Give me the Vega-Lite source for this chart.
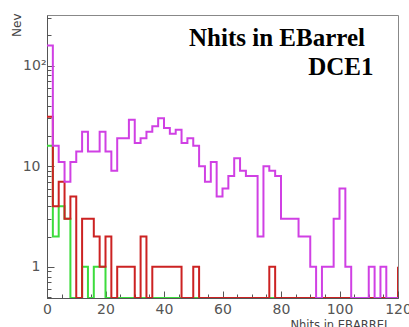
{
  "$schema": "https://vega.github.io/schema/vega-lite/v6.json",
  "width": 351,
  "height": 283,
  "autosize": {"type": "none"},
  "padding": {"left": 47, "top": 15, "right": 11, "bottom": 29},
  "background": "white",
  "config": {
    "view": {"stroke": "#888888", "strokeWidth": 1},
    "axis": {
      "domainColor": "#555555",
      "tickColor": "#555555",
      "labelColor": "#555555",
      "titleColor": "#444444",
      "labelFont": "DejaVu Sans",
      "titleFont": "DejaVu Sans",
      "grid": false,
      "zindex": 1
    }
  },
  "data": {
    "values": [
      {"x": 0, "m": 158, "r": 31, "g": 16},
      {"x": 2, "m": 16, "r": 4, "g": 2},
      {"x": 4, "m": 11, "r": 7, "g": 4},
      {"x": 6, "m": 7, "r": 3, "g": 3},
      {"x": 8, "m": 11, "r": 5, "g": 0},
      {"x": 10, "m": 14, "r": 0, "g": 0},
      {"x": 12, "m": 22, "r": 3, "g": 1},
      {"x": 14, "m": 14, "r": 3, "g": 0},
      {"x": 16, "m": 14, "r": 2, "g": 1},
      {"x": 18, "m": 22, "r": 1, "g": 1},
      {"x": 20, "m": 14, "r": 2, "g": 0},
      {"x": 22, "m": 9, "r": 0, "g": 0},
      {"x": 24, "m": 19, "r": 1, "g": 0},
      {"x": 26, "m": 19, "r": 1, "g": 0},
      {"x": 28, "m": 29, "r": 1, "g": 0},
      {"x": 30, "m": 17, "r": 0, "g": 0},
      {"x": 32, "m": 19, "r": 2, "g": 0},
      {"x": 34, "m": 22, "r": 0, "g": 0},
      {"x": 36, "m": 25, "r": 1, "g": 0},
      {"x": 38, "m": 30, "r": 1, "g": 0},
      {"x": 40, "m": 24, "r": 1, "g": 0},
      {"x": 42, "m": 21, "r": 1, "g": 0},
      {"x": 44, "m": 23, "r": 1, "g": 0},
      {"x": 46, "m": 17, "r": 0, "g": 0},
      {"x": 48, "m": 19, "r": 0, "g": 0},
      {"x": 50, "m": 16, "r": 1, "g": 0},
      {"x": 52, "m": 10, "r": 0, "g": 0},
      {"x": 54, "m": 7, "r": 0, "g": 0},
      {"x": 56, "m": 11, "r": 0, "g": 0},
      {"x": 58, "m": 5, "r": 0, "g": 0},
      {"x": 60, "m": 6, "r": 0, "g": 0},
      {"x": 62, "m": 8, "r": 0, "g": 0},
      {"x": 64, "m": 12, "r": 0, "g": 0},
      {"x": 66, "m": 9, "r": 0, "g": 0},
      {"x": 68, "m": 8, "r": 0, "g": 0},
      {"x": 70, "m": 8, "r": 0, "g": 0},
      {"x": 72, "m": 2, "r": 0, "g": 0},
      {"x": 74, "m": 10, "r": 0, "g": 0},
      {"x": 76, "m": 9, "r": 1, "g": 0},
      {"x": 78, "m": 8, "r": 0, "g": 0},
      {"x": 80, "m": 3, "r": 0, "g": 0},
      {"x": 82, "m": 3, "r": 0, "g": 0},
      {"x": 84, "m": 3, "r": 0, "g": 0},
      {"x": 86, "m": 2, "r": 0, "g": 0},
      {"x": 88, "m": 2, "r": 0, "g": 0},
      {"x": 90, "m": 1, "r": 0, "g": 0},
      {"x": 92, "m": 0, "r": 0, "g": 0},
      {"x": 94, "m": 1, "r": 0, "g": 0},
      {"x": 96, "m": 1, "r": 0, "g": 0},
      {"x": 98, "m": 3, "r": 0, "g": 0},
      {"x": 100, "m": 6, "r": 0, "g": 0},
      {"x": 102, "m": 1, "r": 0, "g": 0},
      {"x": 104, "m": 0, "r": 0, "g": 0},
      {"x": 106, "m": 0, "r": 0, "g": 0},
      {"x": 108, "m": 0, "r": 0, "g": 0},
      {"x": 110, "m": 1, "r": 0, "g": 0},
      {"x": 112, "m": 0, "r": 0, "g": 0},
      {"x": 114, "m": 1, "r": 0, "g": 0},
      {"x": 116, "m": 0, "r": 0, "g": 0},
      {"x": 118, "m": 0, "r": 0, "g": 0},
      {"x": 120, "m": 0, "r": 1, "g": 0}
    ]
  },
  "layer": [
    {
      "mark": {"type": "line", "interpolate": "step-after", "color": "#3ddc3d", "strokeWidth": 2, "clip": true},
      "encoding": {
        "x": {
          "field": "x", "type": "quantitative",
          "scale": {"domain": [0, 120], "nice": false, "zero": false},
          "axis": {
            "values": [0, 20, 40, 60, 80, 100, 120],
            "format": "d",
            "tickSize": -7,
            "labelPadding": 11,
            "labelFontSize": 14,
            "labelFlush": false,
            "labelOverlap": false,
            "title": "Nhits in EBARREL",
            "titleFontSize": 11.5,
            "titleFontWeight": "normal",
            "titleAnchor": "end",
            "titleAlign": "right",
            "titleBaseline": "alphabetic",
            "titleX": 343,
            "titleY": 30
          }
        },
        "y": {
          "field": "g", "type": "quantitative",
          "scale": {"type": "log", "domain": [0.49, 318], "nice": false, "clamp": true},
          "axis": {
            "values": [1, 10, 100],
            "labelExpr": "datum.value >= 100 ? '10²' : datum.value >= 10 ? '10' : '1'",
            "tickSize": -7,
            "labelPadding": {"condition": {"test": "datum.value >= 100", "value": 8}, "value": 14},
            "labelFontSize": 14,
            "labelBaseline": "middle",
            "labelOverlap": false,
            "title": "Nev",
            "titleFontSize": 12,
            "titleFontWeight": "normal",
            "titleAngle": -90,
            "titleAlign": "right",
            "titleBaseline": "alphabetic",
            "titleX": -27,
            "titleY": -2
          }
        }
      }
    },
    {
      "mark": {"type": "line", "interpolate": "step-after", "color": "#cc2222", "strokeWidth": 2, "clip": true},
      "encoding": {
        "x": {
          "field": "x", "type": "quantitative",
          "axis": {
            "values": [5, 10, 15, 25, 30, 35, 45, 50, 55, 65, 70, 75, 85, 90, 95, 105, 110, 115],
            "labels": false, "domain": false, "tickSize": -4, "title": null, "orient": "bottom"
          }
        },
        "y": {
          "field": "r", "type": "quantitative",
          "axis": {
            "values": [0.5, 0.6, 0.7, 0.8, 0.9, 2, 3, 4, 5, 6, 7, 8, 9, 20, 30, 40, 50, 60, 70, 80, 90, 200, 300],
            "labels": false, "domain": false, "tickSize": -4, "title": null, "orient": "left"
          }
        }
      }
    },
    {
      "mark": {"type": "line", "interpolate": "step-after", "color": "#d040e4", "strokeWidth": 2, "clip": true},
      "encoding": {
        "x": {"field": "x", "type": "quantitative", "axis": null},
        "y": {"field": "m", "type": "quantitative", "axis": null}
      }
    },
    {
      "data": {"values": [{}]},
      "mark": {"type": "text", "text": "Nhits in EBarrel", "font": "Liberation Serif", "fontWeight": "bold", "fontSize": 25, "align": "right", "baseline": "alphabetic", "color": "black"},
      "encoding": {
        "x": {"datum": 108.7, "type": "quantitative", "axis": null},
        "y": {"datum": 157.5, "type": "quantitative", "axis": null}
      }
    },
    {
      "data": {"values": [{}]},
      "mark": {"type": "text", "text": "DCE1", "font": "Liberation Serif", "fontWeight": "bold", "fontSize": 25, "align": "right", "baseline": "alphabetic", "color": "black"},
      "encoding": {
        "x": {"datum": 111.6, "type": "quantitative", "axis": null},
        "y": {"datum": 80.6, "type": "quantitative", "axis": null}
      }
    }
  ],
  "resolve": {"axis": {"x": "independent", "y": "independent"}}
}
